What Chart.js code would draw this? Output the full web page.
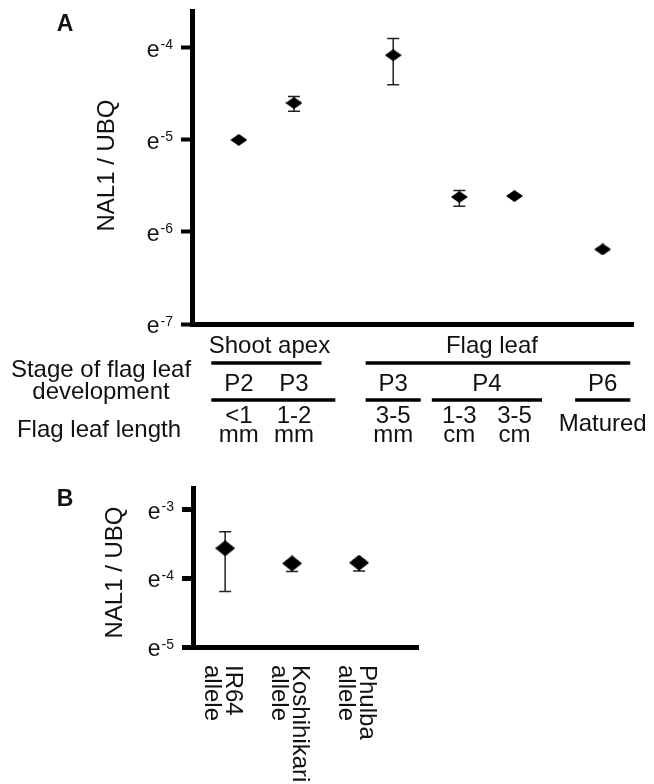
<!DOCTYPE html>
<html>
<head>
<meta charset="utf-8">
<script src="https://cdn.jsdelivr.net/npm/chart.js@4.4.1/dist/chart.umd.min.js"></script>
<style>
  html, body { margin: 0; padding: 0; background: #fff; }
  #wrap { position: relative; width: 654px; height: 784px; overflow: hidden; }
  canvas { position: absolute; left: 0; }
  #panelA { top: 0; }
  #panelB { top: 455px; }
</style>
</head>
<body>
<div id="wrap">
  <canvas id="panelA" width="654" height="455"></canvas>
  <canvas id="panelB" width="654" height="329"></canvas>
</div>
<script>
// ---- Panel A: NAL1 / UBQ during flag leaf development (values are exponents of e) ----
const lengthLabelsA = [['<1', 'mm'], ['1-2', 'mm'], ['3-5', 'mm'], ['1-3', 'cm'], ['3-5', 'cm'], ['Matured']];
const columnXA = [0, 5, 14, 20, 25, 33];
const lnRatioA = [-5.00, -4.60, -4.08, -5.62, -5.61, -6.19];
const lnLowA = [-5.01, -4.69, -4.40, -5.72, -5.62, -6.20];
const lnHighA = [-4.99, -4.53, -3.90, -5.55, -5.60, -6.18];
const stageNamesA = ['P2', 'P3', 'P3', 'P4', 'P6'];
const stageColsA = [[0, 0], [1, 1], [2, 2], [3, 4], [5, 5]];
const stageLineColsA = [[0, 1], [2, 2], [3, 4], [5, 5]];
const tissueNamesA = ['Shoot apex', 'Flag leaf'];
const tissueColsA = [[0, 1], [2, 5]];
const yTickExpA = [-7, -6, -5, -4];

// ---- Panel B: NAL1 / UBQ for three alleles ----
const allelesB = [['IR64', 'allele'], ['Koshihikari', 'allele'], ['Phulba', 'allele']];
const lnRatioB = [-3.56, -3.78, -3.77];
const lnLowB = [-4.19, -3.90, -3.89];
const lnHighB = [-3.32, -3.74, -3.73];
const yTickExpB = [-5, -4, -3];

const FONT = '"Liberation Sans", Arial, Helvetica, sans-serif';
const INK = '#111';

function diamond(w, h) {
  const c = document.createElement('canvas');
  c.width = w; c.height = h;
  const g = c.getContext('2d');
  g.fillStyle = '#000';
  g.beginPath();
  g.moveTo(w / 2, 0); g.lineTo(w, h / 2); g.lineTo(w / 2, h); g.lineTo(0, h / 2);
  g.closePath(); g.fill();
  return c;
}

function drawErrorBars(chart, low, high) {
  const { ctx, scales: { y } } = chart;
  const meta = chart.getDatasetMeta(0);
  ctx.save();
  ctx.strokeStyle = '#222';
  ctx.lineWidth = 1.5;
  meta.data.forEach((pt, i) => {
    const px = pt.x;
    const y1 = y.getPixelForValue(low[i]);
    const y2 = y.getPixelForValue(high[i]);
    ctx.beginPath();
    ctx.moveTo(px, y1); ctx.lineTo(px, y2);
    ctx.moveTo(px - 6, y1); ctx.lineTo(px + 6, y1);
    ctx.moveTo(px - 6, y2); ctx.lineTo(px + 6, y2);
    ctx.stroke();
  });
  ctx.restore();
}

// "e" with a raised exponent, right-aligned at rightX
function drawExpLabel(ctx, rightX, tickY, exp) {
  const sup = String(exp);
  ctx.font = '14px ' + FONT;
  const supW = ctx.measureText(sup).width;
  ctx.font = '23px ' + FONT;
  const eW = ctx.measureText('e').width;
  const x0 = rightX - supW - eW - 1;
  ctx.textAlign = 'left';
  ctx.textBaseline = 'alphabetic';
  ctx.fillText('e', x0, tickY + 9);
  ctx.font = '14px ' + FONT;
  ctx.fillText(sup, x0 + eW + 1, tickY + 1.5);
}

function drawYAxisText(chart, exps, title, titleX, titleDy, letter, letterY) {
  const { ctx, chartArea, scales: { y } } = chart;
  ctx.save();
  ctx.fillStyle = INK;
  exps.forEach(v => drawExpLabel(ctx, chartArea.left - 19, y.getPixelForValue(v), v));
  ctx.font = '24px ' + FONT;
  ctx.textAlign = 'center';
  ctx.textBaseline = 'middle';
  ctx.translate(titleX, (chartArea.top + chartArea.bottom) / 2 + titleDy);
  ctx.rotate(-Math.PI / 2);
  ctx.fillText(title, 0, 0);
  ctx.restore();
  ctx.save();
  ctx.fillStyle = INK;
  ctx.font = 'bold 23px ' + FONT;
  ctx.textAlign = 'center';
  ctx.textBaseline = 'middle';
  ctx.fillText(letter, 65, letterY);
  ctx.restore();
}

function hLine(ctx, x1, x2, yy) {
  ctx.beginPath(); ctx.moveTo(x1, yy); ctx.lineTo(x2, yy); ctx.stroke();
}

const panelADecor = {
  id: 'panelADecor',
  beforeDatasetsDraw(chart) { drawErrorBars(chart, lnLowA, lnHighA); },
  afterDraw(chart) {
    const { ctx, chartArea, scales: { x } } = chart;
    drawYAxisText(chart, yTickExpA, 'NAL1 / UBQ', 107, -2, 'A', 25);
    const colX = i => x.getPixelForValue(columnXA[i]);
    const pad = 2.5 * (x.getPixelForValue(1) - x.getPixelForValue(0));
    const b = chartArea.bottom;
    ctx.save();
    ctx.fillStyle = INK;
    ctx.strokeStyle = '#000';
    ctx.lineWidth = 3.5;
    ctx.font = '24px ' + FONT;
    ctx.textBaseline = 'alphabetic';
    ctx.textAlign = 'center';
    // tissue row
    tissueNamesA.forEach((name, k) => {
      const [a, c] = tissueColsA[k];
      const x1 = colX(a) - pad, x2 = Math.min(colX(c) + pad, chartArea.right);
      ctx.fillText(name, (x1 + x2) / 2 + (k === 0 ? 3 : -6), b + 29);
      hLine(ctx, x1, x2, b + 39);
    });
    // developmental stage row
    stageNamesA.forEach((name, k) => {
      const [a, c] = stageColsA[k];
      ctx.fillText(name, (colX(a) + colX(c)) / 2, b + 67);
    });
    stageLineColsA.forEach(([a, c], k) => {
      const extra = k === 0 ? pad * 0.5 : 0;
      hLine(ctx, colX(a) - pad, Math.min(colX(c) + pad + extra, chartArea.right), b + 76);
    });
    // leaf length row
    lengthLabelsA.forEach((lines, i) => {
      if (lines.length === 1) {
        ctx.fillText(lines[0], colX(i), b + 107);
      } else {
        lines.forEach((t, j) => ctx.fillText(t, colX(i), b + 99 + j * 19));
      }
    });
    // row captions
    ctx.fillText('Stage of flag leaf', 101, b + 53);
    ctx.fillText('development', 101, b + 75);
    ctx.fillText('Flag leaf length', 99, b + 113);
    ctx.restore();
  }
};

const panelBDecor = {
  id: 'panelBDecor',
  beforeDatasetsDraw(chart) { drawErrorBars(chart, lnLowB, lnHighB); },
  afterDraw(chart) {
    const { ctx, chartArea, scales: { x } } = chart;
    drawYAxisText(chart, yTickExpB, 'NAL1 / UBQ', 115, 5, 'B', 45);
    ctx.save();
    ctx.fillStyle = INK;
    ctx.font = '24px ' + FONT;
    ctx.textAlign = 'left';
    ctx.textBaseline = 'alphabetic';
    allelesB.forEach((lines, i) => {
      const px = x.getPixelForValue(i);
      lines.forEach((t, j) => {
        ctx.save();
        ctx.translate(px + 1 - j * 21, chartArea.bottom + 18);
        ctx.rotate(Math.PI / 2);
        ctx.fillText(t, 0, 0);
        ctx.restore();
      });
    });
    ctx.restore();
  }
};

function axisY(min, max, exps, tickW, width) {
  return {
    type: 'linear',
    min, max,
    afterBuildTicks: s => { s.ticks = exps.map(v => ({ value: v })); },
    afterFit: s => { s.width = width; },
    ticks: { display: false },
    grid: { display: true, drawOnChartArea: false, drawTicks: true, tickLength: 11, tickWidth: tickW, tickColor: '#000' },
    border: { display: true, width: 5, color: '#000' }
  };
}

function axisX(min, max) {
  return {
    type: 'linear',
    min, max,
    afterFit: s => { s.height = 0; },
    ticks: { display: false },
    grid: { display: false },
    border: { display: true, width: 5, color: '#000' }
  };
}

new Chart(document.getElementById('panelA'), {
  type: 'scatter',
  data: {
    datasets: [{
      data: lnRatioA.map((v, i) => ({ x: columnXA[i], y: v })),
      pointStyle: diamond(17, 12),
      pointRadius: 8,
      showLine: false
    }]
  },
  options: {
    responsive: false,
    animation: false,
    devicePixelRatio: 1,
    layout: { padding: { left: 0, top: 11, right: 21, bottom: 131 } },
    plugins: { legend: { display: false }, tooltip: { enabled: false } },
    scales: { x: axisX(-4.25, 35.75), y: axisY(-7, -3.6, yTickExpA, 4, 192) }
  },
  plugins: [panelADecor]
});

new Chart(document.getElementById('panelB'), {
  type: 'scatter',
  data: {
    labels: allelesB.map(l => l.join(' ')),
    datasets: [{
      data: lnRatioB.map((v, i) => ({ x: i, y: v })),
      pointStyle: diamond(20, 16),
      pointRadius: 10,
      showLine: false
    }]
  },
  options: {
    responsive: false,
    animation: false,
    devicePixelRatio: 1,
    layout: { padding: { left: 0, top: 33, right: 236, bottom: 137 } },
    plugins: { legend: { display: false }, tooltip: { enabled: false } },
    scales: { x: axisX(-0.48, 2.88), y: axisY(-5, -2.68, yTickExpB, 5, 193) }
  },
  plugins: [panelBDecor]
});
</script>
</body>
</html>
